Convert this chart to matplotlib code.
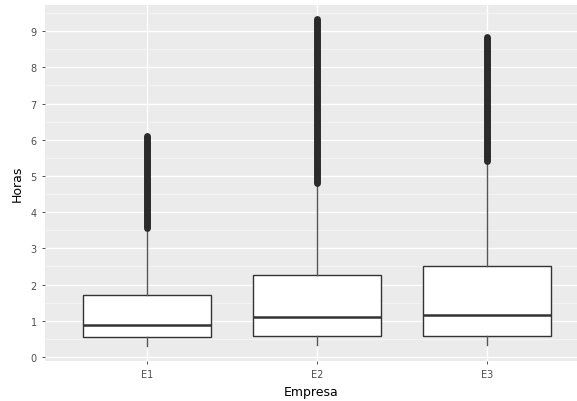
import matplotlib
matplotlib.use("Agg")
import matplotlib.pyplot as plt
from matplotlib.ticker import MultipleLocator

# valores
empresas = ["E1", "E2", "E3"]
q1 = [0.55, 0.58, 0.58]
mediana = [0.88, 1.10, 1.16]
q3 = [1.71, 2.27, 2.51]
bigote_inf = [0.30, 0.32, 0.32]
bigote_sup = [3.52, 4.78, 5.38]
atipico_min = [3.55, 4.80, 5.40]
atipico_max = [6.10, 9.34, 8.84]

plt.rcParams["font.family"] = ["DejaVu Sans"]

fig = plt.figure(figsize=(5.77, 4.02), dpi=100)
ax = fig.add_axes([0.078, 0.0995, 0.922, 0.8855])
ax.set_facecolor("#EBEBEB")

pos = list(range(1, len(empresas) + 1))
stats = []
for i, name in enumerate(empresas):
    stats.append({
        "label": name,
        "q1": q1[i],
        "med": mediana[i],
        "q3": q3[i],
        "whislo": bigote_inf[i],
        "whishi": bigote_sup[i],
        "fliers": [],
    })

ax.bxp(
    stats,
    positions=pos,
    widths=0.75,
    showcaps=False,
    showfliers=False,
    patch_artist=True,
    boxprops=dict(facecolor="white", edgecolor="#333333", linewidth=1.0),
    medianprops=dict(color="#333333", linewidth=1.8, solid_capstyle="butt"),
    whiskerprops=dict(color="#555555", linewidth=1.0),
    zorder=3,
)

# los atípicos se superponen tanto que forman una barra continua
ax.vlines(pos, atipico_min, atipico_max, colors="#2b2b2b", linewidth=5,
          capstyle="round", zorder=4)

ax.set_xlim(0.4, 3.53)
ax.set_ylim(-0.11, 9.72)
ax.yaxis.set_major_locator(MultipleLocator(1))
ax.yaxis.set_minor_locator(MultipleLocator(0.5))
ax.set_xticks(pos)
ax.set_xticklabels(empresas)

ax.grid(which="major", color="white", linewidth=1.0, zorder=0)
ax.grid(which="minor", axis="y", color="#F5F5F5", linewidth=0.6, zorder=0)
ax.set_axisbelow(True)
for s in ax.spines.values():
    s.set_visible(False)

ax.tick_params(axis="both", which="major", colors="#333333", labelcolor="#4D4D4D",
               labelsize=7, length=2.5, width=0.6)
ax.tick_params(axis="y", which="minor", length=0)

ax.set_xlabel("Empresa", fontsize=9, color="black", labelpad=4)
ax.set_ylabel("Horas", fontsize=9, color="black", labelpad=5)

fig.savefig("out.png", dpi=100)
